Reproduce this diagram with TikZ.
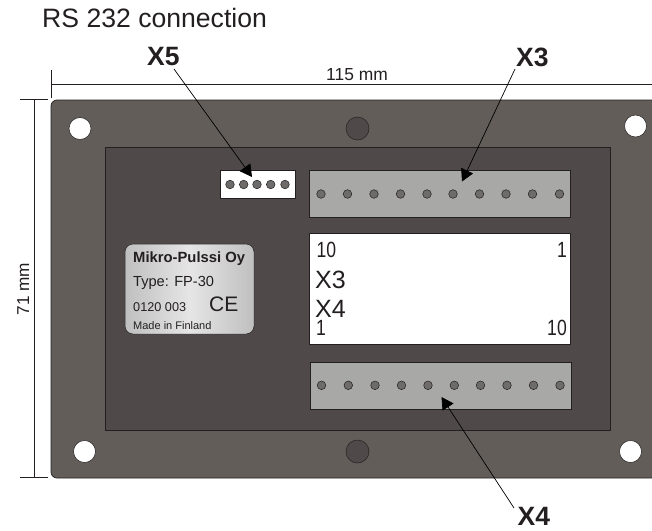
\documentclass[tikz,border=0pt]{standalone}
\usepackage{graphicx}
\usepackage{fontspec}
\setmainfont{Liberation Sans}
\usetikzlibrary{arrows.meta}
\definecolor{plate}{HTML}{625D59}
\definecolor{inner}{HTML}{4F4A49}
\definecolor{strip}{HTML}{A8A8A7}
\definecolor{pin}{HTML}{6E6C6A}
\definecolor{ink}{HTML}{231F20}
\newcommand{\narrowdigits}[1]{\scalebox{0.8}[1]{#1}}
\tikzset{
  panel/.style={draw=ink,line width=0.7pt},
  hole/.style={circle,draw=ink,line width=0.5pt,fill=white,inner sep=0pt,minimum size=22pt},
  plug/.style={circle,draw=ink,line width=0.5pt,fill=inner,inner sep=0pt,minimum size=23pt},
  pinhole/.style={circle,draw=ink,line width=0.5pt,fill=pin,inner sep=0pt,minimum size=8.6pt},
  dim/.style={draw=ink,line width=0.6pt},
  pointer/.style={draw=black,line width=0.7pt,-{Triangle[length=12pt,width=13pt]}},
  txt/.style={inner sep=0pt,text=ink,anchor=base west},
  digits/.style={txt,font=\fontsize{22}{22}\selectfont},
  bold/.style={inner sep=0pt,text=ink,font=\fontsize{26.5}{26.5}\selectfont\bfseries,anchor=base west}
}
\begin{document}
\begin{tikzpicture}[x=1pt,y=-1pt]
\useasboundingbox (0,0) rectangle (652,530);
% plate
\path[panel,fill=plate,rounded corners=6pt] (660,100) -- (51,100) -- (51,478) -- (660,478) -- cycle;
\path[panel,fill=inner] (105.5,147) rectangle (610,430);
\node[hole] (h1) at (80,128.5) {};
\node[hole] (h2) at (635.5,126) {};
\node[hole] (h3) at (84.5,451.5) {};
\node[hole] (h4) at (630.5,451.5) {};
\node[plug] (p1) at (357.5,128.5) {};
\node[plug] (p2) at (357.5,451.5) {};
% dimensions
\draw[dim] (51,70) -- (51,98);
\draw[dim] (51,84.5) -- (652,84.5);
\draw[dim] (20,99.5) -- (48,99.5);
\draw[dim] (20,477.5) -- (48,477.5);
\draw[dim] (34.5,99.5) -- (34.5,477.5);
\node[txt,font=\fontsize{17.4}{17.4}\selectfont] at (326,80) {115 mm};
\node[txt,font=\fontsize{17.2}{17.2}\selectfont,rotate=90] (d71) at (29,315.5) {71 mm};
% connectors
\path[fill=white,draw=ink,line width=0.5pt] (220.5,170) rectangle (295.5,198.5);
\foreach \x in {230,243.7,257,270.7,285} \node[pinhole] at (\x,184.5) {};
\path[panel,fill=strip] (309.5,170.5) rectangle (570.5,217);
\foreach \x in {321,347.5,374,400.5,427,453,479.5,506,532.5,559.5} \node[pinhole] at (\x,194) {};
\path[panel,fill=strip] (310.5,362) rectangle (571.5,409);
\foreach \x in {321.5,348.3,375,401.5,428,454.3,480.5,507,533.5,560} \node[pinhole] at (\x,385.3) {};
% display
\path[fill=white,draw=ink,line width=0.5pt] (309.5,233.5) rectangle (570.5,344.5);
\node[digits] at (316.5,257.5) {\narrowdigits{10}};
\node[digits,anchor=base east] at (567,257.5) {\narrowdigits{1}};
\node[txt,font=\fontsize{25}{25}\selectfont] at (315,288) {X3};
\node[txt,font=\fontsize{25}{25}\selectfont] at (315,317) {X4};
\node[digits] at (316,335.5) {\narrowdigits{1}};
\node[digits,anchor=base east] at (567,335.5) {\narrowdigits{10}};
% label
\path[left color=black!25,right color=black!25,middle color=black!10,draw=ink,line width=0.5pt,rounded corners=8pt] (125,244) rectangle (254,334);
\node[txt,font=\fontsize{14.8}{14.8}\selectfont\bfseries] at (133,262) {Mikro-Pulssi Oy};
\node[txt,font=\fontsize{14.6}{14.6}\selectfont] at (133,286.5) {Type: FP-30};
\node[txt,font=\fontsize{12.7}{12.7}\selectfont] at (133,311) {0120 003};
\node[txt,font=\fontsize{21}{21}\selectfont] at (209,311) {CE};
\node[txt,font=\fontsize{11}{11}\selectfont] at (133,329) {Made in Finland};
% titles and pointers
\node[txt,font=\fontsize{26.6}{26.6}\selectfont] at (42,27) {RS 232 connection};
\node[bold] (x5) at (147,65) {X5};
\node[bold] (x3) at (516,66.5) {X3};
\node[bold] (x4) at (517.5,525.5) {X4};
\coordinate (t5) at (252,177);
\coordinate (t3) at (462,181.5);
\coordinate (t4) at (441.5,397);
\draw[pointer] (174,69) -- (t5);
\draw[pointer] (515,69) -- (t3);
\draw[pointer] (514,508) -- (t4);
\end{tikzpicture}
\end{document}
